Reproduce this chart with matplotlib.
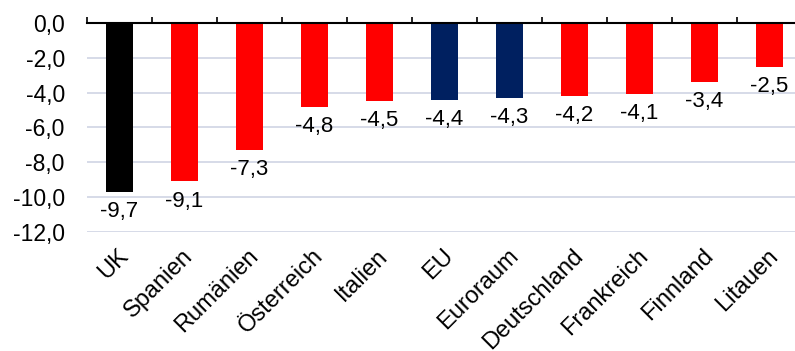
import matplotlib
from matplotlib import pyplot as plt

plt.rcParams['font.family'] = ['Liberation Sans', 'DejaVu Sans']

laender = ['UK', 'Spanien', 'Rumänien', 'Österreich', 'Italien', 'EU',
           'Euroraum', 'Deutschland', 'Frankreich', 'Finnland', 'Litauen']
werte = [-9.7, -9.1, -7.3, -4.8, -4.5, -4.4, -4.3, -4.2, -4.1, -3.4, -2.5]
farben = ['#000000', '#FF0000', '#FF0000', '#FF0000', '#FF0000', '#002060',
          '#002060', '#FF0000', '#FF0000', '#FF0000', '#FF0000']
y_ticks = [0, -2, -4, -6, -8, -10, -12]

fig = plt.figure(figsize=(7.95, 3.51), dpi=100)
W, H = 795, 351
ax = fig.add_axes([87 / W, 1 - 232 / H, 715 / W, (232 - 23) / H])

x = range(len(laender))
ax.bar(x, werte, width=0.43, color=farben, zorder=3)

# Werte unter den Balken
for i, v in enumerate(werte):
    ax.annotate(f'{v:.1f}'.replace('.', ','), (i, v), xytext=(0, -6.5),
                textcoords='offset points', ha='center', va='top', fontsize=16)

ax.set_xlim(-0.5, len(laender) - 0.5)
ax.set_ylim(-12, 0)
ax.set_yticks(y_ticks)
ax.set_yticklabels([f'{t:.1f}'.replace('.', ',') for t in y_ticks], fontsize=16.5)
ax.yaxis.grid(True, color='#D0D4E4', linewidth=1.2, zorder=0)
ax.tick_params(axis='y', length=0, pad=16)

# Kategorienachse oben bei 0, Striche an den Grenzen
ax.set_xticks([i - 0.5 for i in range(len(laender) + 1)])
ax.set_xticklabels([])
ax.xaxis.set_ticks_position('top')
ax.tick_params(axis='x', direction='out', length=4, width=1.2, color='black')
for i, name in enumerate(laender):
    ax.text(i + 0.08, -13.2, name, rotation=45, rotation_mode='anchor',
            ha='right', va='center', fontsize=17)

for s in ['left', 'right', 'bottom']:
    ax.spines[s].set_visible(False)
ax.spines['top'].set_linewidth(1.5)
ax.spines['top'].set_zorder(4)

plt.savefig('out.png', dpi=100)
